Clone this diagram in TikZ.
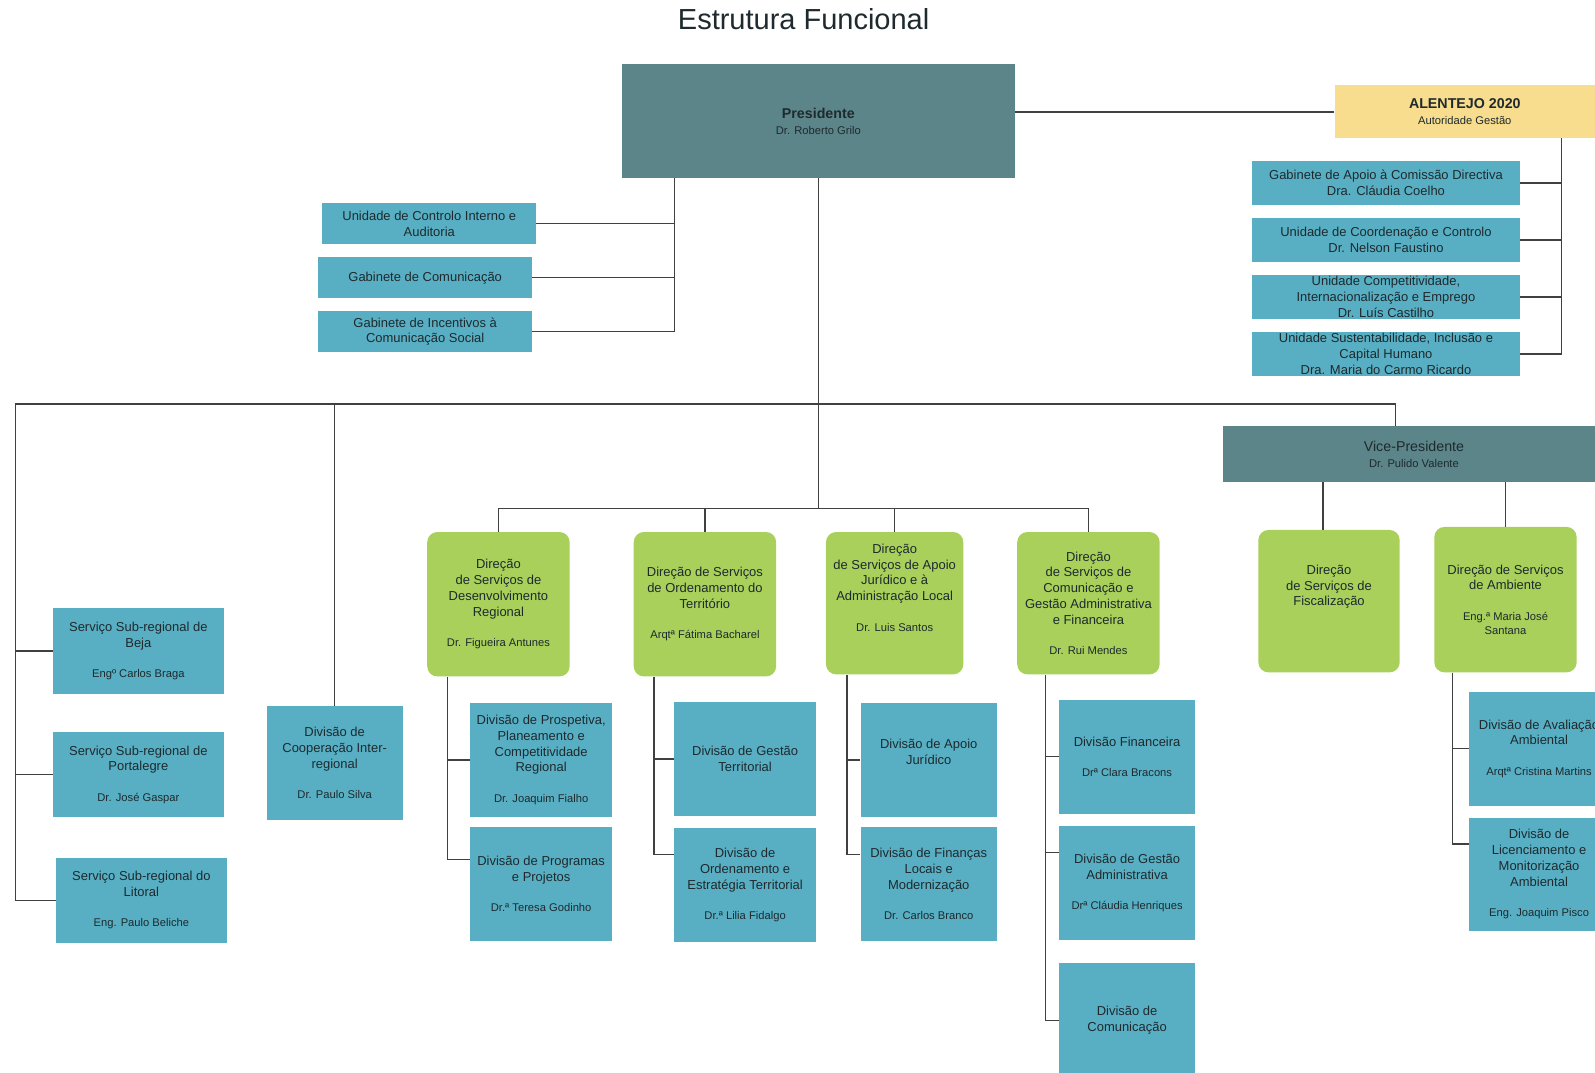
\documentclass[tikz,border=0pt]{standalone}
\usepackage{fontspec}
\setmainfont{Liberation Sans}
\usetikzlibrary{positioning,calc}

\definecolor{tealhd}{HTML}{5B8589}
\definecolor{bluebx}{HTML}{58AFC3}
\definecolor{greenbx}{HTML}{A8D05B}
\definecolor{yellowbx}{HTML}{F7DD8D}
\definecolor{txtc}{HTML}{1E2A2E}

\newcommand{\nm}[1]{{\fontsize{11}{15.5}\selectfont #1}}

\tikzset{
  box/.style={rectangle, inner sep=0pt, align=center, text=txtc,
    font=\fontsize{12.75}{15.5}\selectfont},
  blu/.style={box, fill=bluebx},
  grn/.style={box, fill=greenbx, rounded corners=10pt},
  hd/.style={box, fill=tealhd},
  sub/.style={blu, minimum width=140pt, minimum height=112pt},
  ln/.style={draw=black!75, line width=1.3pt},
}

\begin{document}
\begin{tikzpicture}[x=1pt,y=-1pt]
  \useasboundingbox (0,0) rectangle (1568,1054);
  \clip (0,0) rectangle (1568,1054);

  \node[font=\fontsize{28.5}{34}\selectfont, text=txtc] (title) at (790,19) {Estrutura Funcional};

  % top level
  \node[hd, minimum width=387pt, minimum height=112pt] (pres) at (804.5,119)
    {{\fontsize{14}{16}\selectfont\bfseries Presidente}\\\nm{Dr. Roberto Grilo}};
  \node[box, fill=yellowbx, minimum width=256pt, minimum height=52pt] (alent) at (1440,110)
    {{\fontsize{14}{16}\selectfont\bfseries ALENTEJO 2020}\\\nm{Autoridade Gestão}};
  \node[hd, minimum width=376pt, minimum height=55pt] (vp) at (1390,446.5)
    {{\fontsize{14}{16}\selectfont Vice-Presidente}\\\nm{Dr. Pulido Valente}};

  % Alentejo 2020 units
  \node[blu, minimum width=263pt, minimum height=44pt] (ua1) at (1362.5,180)
    {Gabinete de Apoio à Comissão Directiva\\Dra. Cláudia Coelho};
  \node[blu, minimum width=263pt, minimum height=44pt] (ua2) at (1362.5,236)
    {Unidade de Coordenação e Controlo\\Dr. Nelson Faustino};
  \node[blu, minimum width=263pt, minimum height=44pt] (ua3) at (1362.5,292)
    {Unidade Competitividade,\\Internacionalização e Emprego\\Dr. Luís Castilho};
  \node[blu, minimum width=263pt, minimum height=44pt] (ua4) at (1362.5,348)
    {Unidade Sustentabilidade, Inclusão e\\Capital Humano\\Dra. Maria do Carmo Ricardo};

  % presidency offices
  \node[blu, minimum width=210pt, minimum height=40pt] (gc1) at (422,220)
    {Unidade de Controlo Interno e\\Auditoria};
  \node[blu, minimum width=210pt, minimum height=40pt] (gc2) at (418,273)
    {Gabinete de Comunicação};
  \node[blu, minimum width=210pt, minimum height=40pt] (gc3) at (418,326)
    {Gabinete de Incentivos à\\Comunicação Social};

  % sub-regional services
  \node[blu, minimum width=168pt, minimum height=84pt] (s1) at (136,640)
    {Serviço Sub-regional de\\Beja\\[14.5pt]\nm{Engº Carlos Braga}};
  \node[blu, minimum width=168pt, minimum height=83pt] (s2) at (136,761.5)
    {Serviço Sub-regional de\\Portalegre\\[14.5pt]\nm{Dr. José Gaspar}};
  \node[blu, minimum width=168pt, minimum height=84pt] (s3) at (139,885)
    {Serviço Sub-regional do\\Litoral\\[14.5pt]\nm{Eng. Paulo Beliche}};
  \node[blu, minimum width=134pt, minimum height=112pt] (coop) at (329,750)
    {Divisão de\\Cooperação Inter-\\regional\\[14.5pt]\nm{Dr. Paulo Silva}};

  % directions
  \node[grn, minimum width=140pt, minimum height=142pt] (d1) at (490,594)
    {Direção\\de Serviços de\\Desenvolvimento\\Regional\\[14.5pt]\nm{Dr. Figueira Antunes}};
  \node[grn, minimum width=140pt, minimum height=142pt] (d2) at (693,594)
    {Direção de Serviços\\de Ordenamento do\\Território\\[14.5pt]\nm{Arqtª Fátima Bacharel}};
  \node[grn, minimum width=135pt, minimum height=140pt] (d3) at (879.5,593)
    {Direção\\de Serviços de Apoio\\Jurídico e à\\Administração Local\\[14.5pt]\nm{Dr. Luis Santos}\\[15.5pt]\mbox{}};
  \node[grn, minimum width=140pt, minimum height=140pt] (d4) at (1070,593)
    {Direção\\de Serviços de\\Comunicação e\\Gestão Administrativa\\e Financeira\\[14.5pt]\nm{Dr. Rui Mendes}};
  \node[grn, minimum width=139pt, minimum height=140pt] (d5) at (1306.5,591)
    {Direção\\de Serviços de\\Fiscalização\\[15.5pt]\mbox{}};
  \node[grn, minimum width=140pt, minimum height=143pt] (d6) at (1480,589.5)
    {Direção de Serviços\\de Ambiente\\[14.5pt]\nm{Eng.ª Maria José}\\[-1.5pt]\nm{Santana}};

  % divisions
  \node[sub] (pp1) at (532,747)
    {Divisão de Prospetiva,\\Planeamento e\\Competitividade\\Regional\\[14.5pt]\nm{Dr. Joaquim Fialho}};
  \node[sub] (pp2) at (532,869)
    {Divisão de Programas\\e Projetos\\[14.5pt]\nm{Dr.ª Teresa Godinho}};
  \node[sub, minimum width=139pt] (ot1) at (732.5,746)
    {Divisão de Gestão\\Territorial};
  \node[sub, minimum width=139pt] (ot2) at (732.5,870)
    {Divisão de\\Ordenamento e\\Estratégia Territorial\\[14.5pt]\nm{Dr.ª Lilia Fidalgo}};
  \node[sub, minimum width=134pt] (aj1) at (913,747)
    {Divisão de Apoio\\Jurídico\\\mbox{}};
  \node[sub, minimum width=134pt] (aj2) at (913,869)
    {Divisão de Finanças\\Locais e\\Modernização\\[14.5pt]\nm{Dr. Carlos Branco}};
  \node[sub, minimum width=134pt] (cg1) at (1108,744)
    {Divisão Financeira\\[14.5pt]\nm{Drª Clara Bracons}};
  \node[sub, minimum width=134pt] (cg2) at (1108,868)
    {Divisão de Gestão\\Administrativa\\[14.5pt]\nm{Drª Cláudia Henriques}};
  \node[sub, minimum width=134pt] (cg3) at (1108,1003)
    {Divisão de\\Comunicação};
  \node[sub, minimum width=138pt] (am1) at (1513,736)
    {Divisão de Avaliação\\Ambiental\\[14.5pt]\nm{Arqtª Cristina Martins}};
  \node[sub, minimum width=138pt, minimum height=111pt] (am2) at (1513,859.5)
    {Divisão de\\Licenciamento e\\Monitorização\\Ambiental\\[14.5pt]\nm{Eng. Joaquim Pisco}};

  % connectors
  \coordinate (ra) at (1535,136);
  \coordinate (la) at (663,175);
  \coordinate (bw) at (15,397);
  \coordinate (db) at (805,500);
  \coordinate (vpin) at (1372,419);

  \draw[ln] (alent.west) -- (alent.west -| pres.east);
  \draw[ln] (ra) |- (ua4.east);
  \foreach \k in {1,2,3} \draw[ln] (ua\k.east) -- (ua\k.east -| ra);
  \draw[ln] (la) |- (gc3.east);
  \foreach \k in {1,2} \draw[ln] (gc\k.east) -- (gc\k.east -| la);

  \draw[ln] (pres.south) -- (pres.south |- db);
  \draw[ln] (vpin) |- (bw) |- (s3.west);
  \foreach \k in {1,2} \draw[ln] (s\k.west) -- (s\k.west -| bw);
  \draw[ln] (coop.north) -- (coop.north |- bw);
  \draw[ln] (d1.north) |- (db) -| (d4.north);
  \foreach \k in {d2,d3} \draw[ln] (\k.north) -- (\k.north |- db);
  \draw[ln] ([xshift=-6pt]d5.north) -- ([xshift=-6pt]d5.north |- vp.south);
  \draw[ln] (d6.north) -- (d6.north |- vp.south);

  \draw[ln] ([xshift=20pt]d1.south west) coordinate (k1) |- ([yshift=-32pt]pp2.north west);
  \draw[ln] (pp1.west) -- (pp1.west -| k1);
  \draw[ln] ([xshift=20pt]d2.south west) coordinate (k2) |- ([yshift=-26pt]ot2.north west);
  \draw[ln] (ot1.west) -- (ot1.west -| k2);
  \draw[ln] ([xshift=21pt]d3.south west) coordinate (k3) |- ([yshift=-27pt]aj2.north west);
  \draw[ln] (aj1.west) -- (aj1.west -| k3);
  \draw[ln] ([xshift=28pt]d4.south west) coordinate (k4) |- (cg3.west);
  \draw[ln] (cg1.west) -- (cg1.west -| k4);
  \draw[ln] ([yshift=-26pt]cg2.north west) -- ([yshift=-26pt]cg2.north west -| k4);
  \draw[ln] ([xshift=18pt]d6.south west) coordinate (k6) |- ([yshift=-26pt]am2.north west);
  \draw[ln] (am1.west) -- (am1.west -| k6);
\end{tikzpicture}
\end{document}
